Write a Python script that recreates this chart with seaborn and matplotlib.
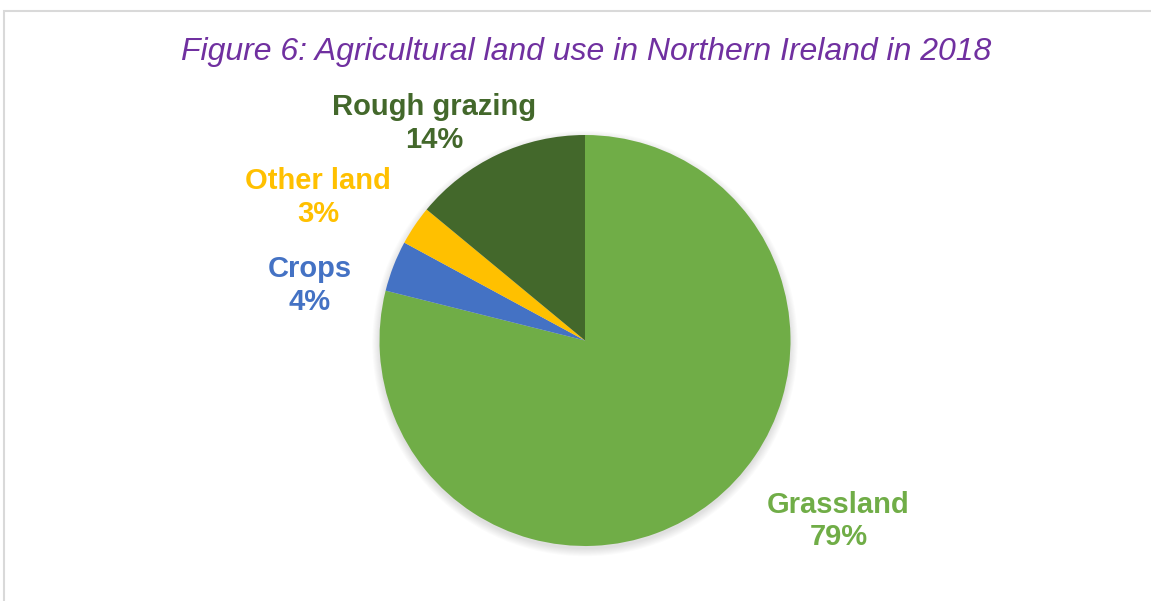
import matplotlib
matplotlib.use("Agg")
import matplotlib.pyplot as plt
import seaborn as sns
from matplotlib.patches import Rectangle, Circle

categories = ["Grassland", "Crops", "Other land", "Rough grazing"]
values = [78.9, 4.0, 3.1, 14.0]
pct_labels = ["79%", "4%", "3%", "14%"]
colors = ["#70AD47", "#4472C4", "#FFC000", "#43682B"]
title = "Figure 6: Agricultural land use in Northern Ireland in 2018"

sns.set_theme(style="white")
plt.rcParams["font.family"] = ["Liberation Sans", "DejaVu Sans"]

W, H = 1151, 601
fig = plt.figure(figsize=(W / 100, H / 100), dpi=100)
fig.patch.set_facecolor("white")

# light grey frame
fig.add_artist(Rectangle((3.5 / W, -0.1), 1.2, (H - 10.5) / H + 0.1,
                         transform=fig.transFigure, fill=False,
                         edgecolor="#d9d9d9", linewidth=1.5))

cx, cy, r = 585, 340.5, 205.5
ax = fig.add_axes([(cx - r) / W, (H - cy - r) / H, 2 * r / W, 2 * r / H])

# soft shadow under the pie
for i in range(8):
    ax.add_patch(Circle((0, -0.015), 1.0 + 0.005 * i, facecolor="black",
                        edgecolor="none", alpha=0.016, zorder=0,
                        clip_on=False))

wedges, _ = ax.pie(values, colors=colors, startangle=90, counterclock=False,
                   radius=1, wedgeprops=dict(linewidth=0))
for w in wedges:
    w.set_zorder(2)
    w.set_clip_on(False)

ax.set_xlim(-1, 1)
ax.set_ylim(-1, 1)
ax.set_aspect("auto")
ax.axis("off")

# label baselines in pixels: (x centre, baseline of name, baseline of pct)
label_px = [(838.5, 513, 545), (310, 277, 310), (318, 189, 222), (434, 115, 148)]
for (px, b1, b2), cat, pct, col in zip(label_px, categories, pct_labels, colors):
    fig.text(px / W, 1 - b1 / H, cat, ha="center", va="baseline",
             fontsize=21, fontweight="bold", color=col)
    fig.text(px / W, 1 - b2 / H, pct, ha="center", va="baseline",
             fontsize=21, fontweight="bold", color=col)

fig.text(586 / W, 1 - 60 / H, title, ha="center", va="baseline",
         fontsize=23, style="italic", color="#7030A0")

fig.savefig("out.png", dpi=100, facecolor="white")
